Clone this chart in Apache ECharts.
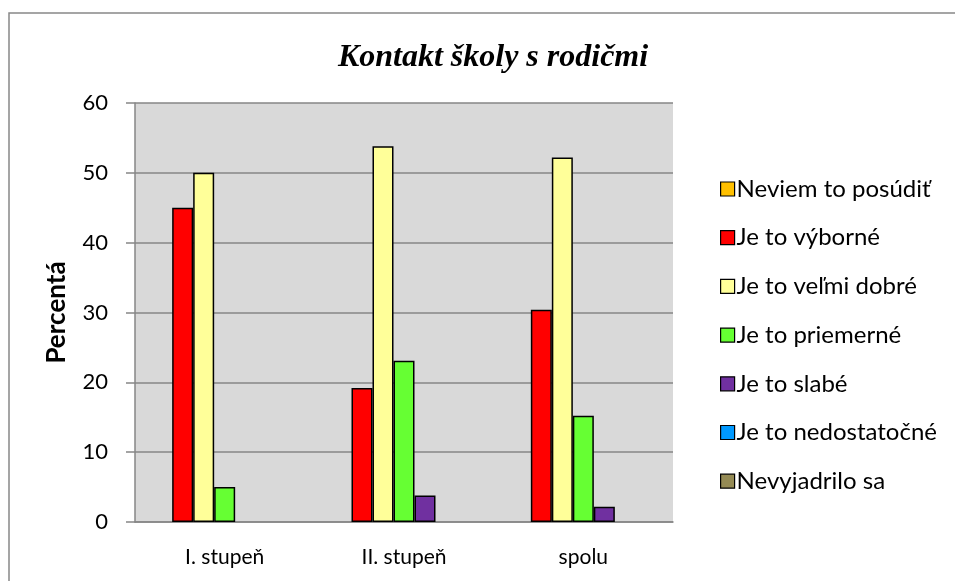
<!DOCTYPE html>
<html>
<head>
<meta charset="utf-8">
<script src="https://cdn.jsdelivr.net/npm/echarts@6/dist/echarts.min.js"></script>
<style>
  html, body { margin: 0; padding: 0; background: #fff; }
  #chart { width: 955px; height: 581px; }
</style>
</head>
<body>
<div id="chart"></div>
<script>
const categories = ['I. stupeň', 'II. stupeň', 'spolu']
const seriesNames = [
  'Neviem to posúdiť',
  'Je to výborné',
  'Je to veľmi dobré',
  'Je to priemerné',
  'Je to slabé',
  'Je to nedostatočné',
  'Nevyjadrilo sa'
]
const seriesColors = ['#FFC000', '#FF0000', '#FFFF99', '#66FF33', '#7030A0', '#0099FF', '#948A54']
const neviem = [0, 0, 0]
const vyborne = [45, 19.2, 30.4]
const velmiDobre = [50, 53.8, 52.2]
const priemerne = [5, 23.1, 15.2]
const slabe = [0, 3.8, 2.2]
const nedostatocne = [0, 0, 0]
const nevyjadrilo = [0, 0, 0]
const seriesValues = [neviem, vyborne, velmiDobre, priemerne, slabe, nedostatocne, nevyjadrilo]

const font = 'Lato, "Open Sans", sans-serif'
const myChart = echarts.init(document.getElementById('chart'))

// nulové stĺpce bez orámovania (inak vznikne čiara na osi)
function barData(values) {
  return values.map(v => (v === 0 ? { value: v, itemStyle: { borderWidth: 0 } } : v))
}

const option = {
  animation: false,
  title: {
    text: 'Kontakt školy s rodičmi',
    left: 488,
    textAlign: 'center',
    top: 37,
    textStyle: {
      fontFamily: '"Liberation Serif", serif',
      fontStyle: 'italic',
      fontWeight: 'bold',
      fontSize: 32,
      color: '#000'
    }
  },
  graphic: [
    {
      type: 'rect',
      shape: { x: 9, y: 13, width: 960, height: 600 },
      style: { fill: 'none', stroke: '#888', lineWidth: 1.5 },
      silent: true
    }
  ],
  legend: {
    orient: 'vertical',
    left: 715,
    top: 172,
    itemWidth: 14,
    itemHeight: 14,
    itemGap: 24.7,
    icon: 'rect',
    itemStyle: { borderColor: '#000', borderWidth: 1.2 },
    textStyle: { fontFamily: font, fontSize: 24, lineHeight: 24, color: '#000', padding: [0, 0, 0, -3] },
    data: seriesNames
  },
  grid: {
    left: 135,
    top: 103,
    width: 538,
    height: 419,
    show: true,
    backgroundColor: '#D9D9D9',
    borderWidth: 0
  },
  xAxis: {
    type: 'category',
    data: categories,
    axisLine: { lineStyle: { color: '#868686', width: 1.5 } },
    axisTick: { show: false },
    axisLabel: { fontFamily: font, fontSize: 21, color: '#000', margin: 25 }
  },
  yAxis: {
    type: 'value',
    min: 0,
    max: 60,
    interval: 10,
    name: 'Percentá',
    nameLocation: 'middle',
    nameGap: 65,
    nameTextStyle: { fontFamily: font, fontSize: 26, fontWeight: 'bold', color: '#000' },
    axisLine: { show: true, lineStyle: { color: '#868686', width: 1.5 } },
    axisTick: { show: true, inside: false, length: 9, lineStyle: { color: '#868686', width: 1.5 } },
    splitLine: { lineStyle: { color: '#868686', width: 1.5 } },
    axisLabel: { fontFamily: font, fontSize: 22, color: '#000', margin: 27 }
  },
  series: seriesNames.map((name, i) => ({
    name: name,
    type: 'bar',
    data: barData(seriesValues[i]),
    barWidth: 21,
    barGap: '0%',
    itemStyle: {
      color: seriesColors[i],
      borderColor: '#000',
      borderWidth: 1.5
    }
  }))
}

myChart.setOption(option)
window.addEventListener('resize', () => { myChart.resize() })
</script>
</body>
</html>
